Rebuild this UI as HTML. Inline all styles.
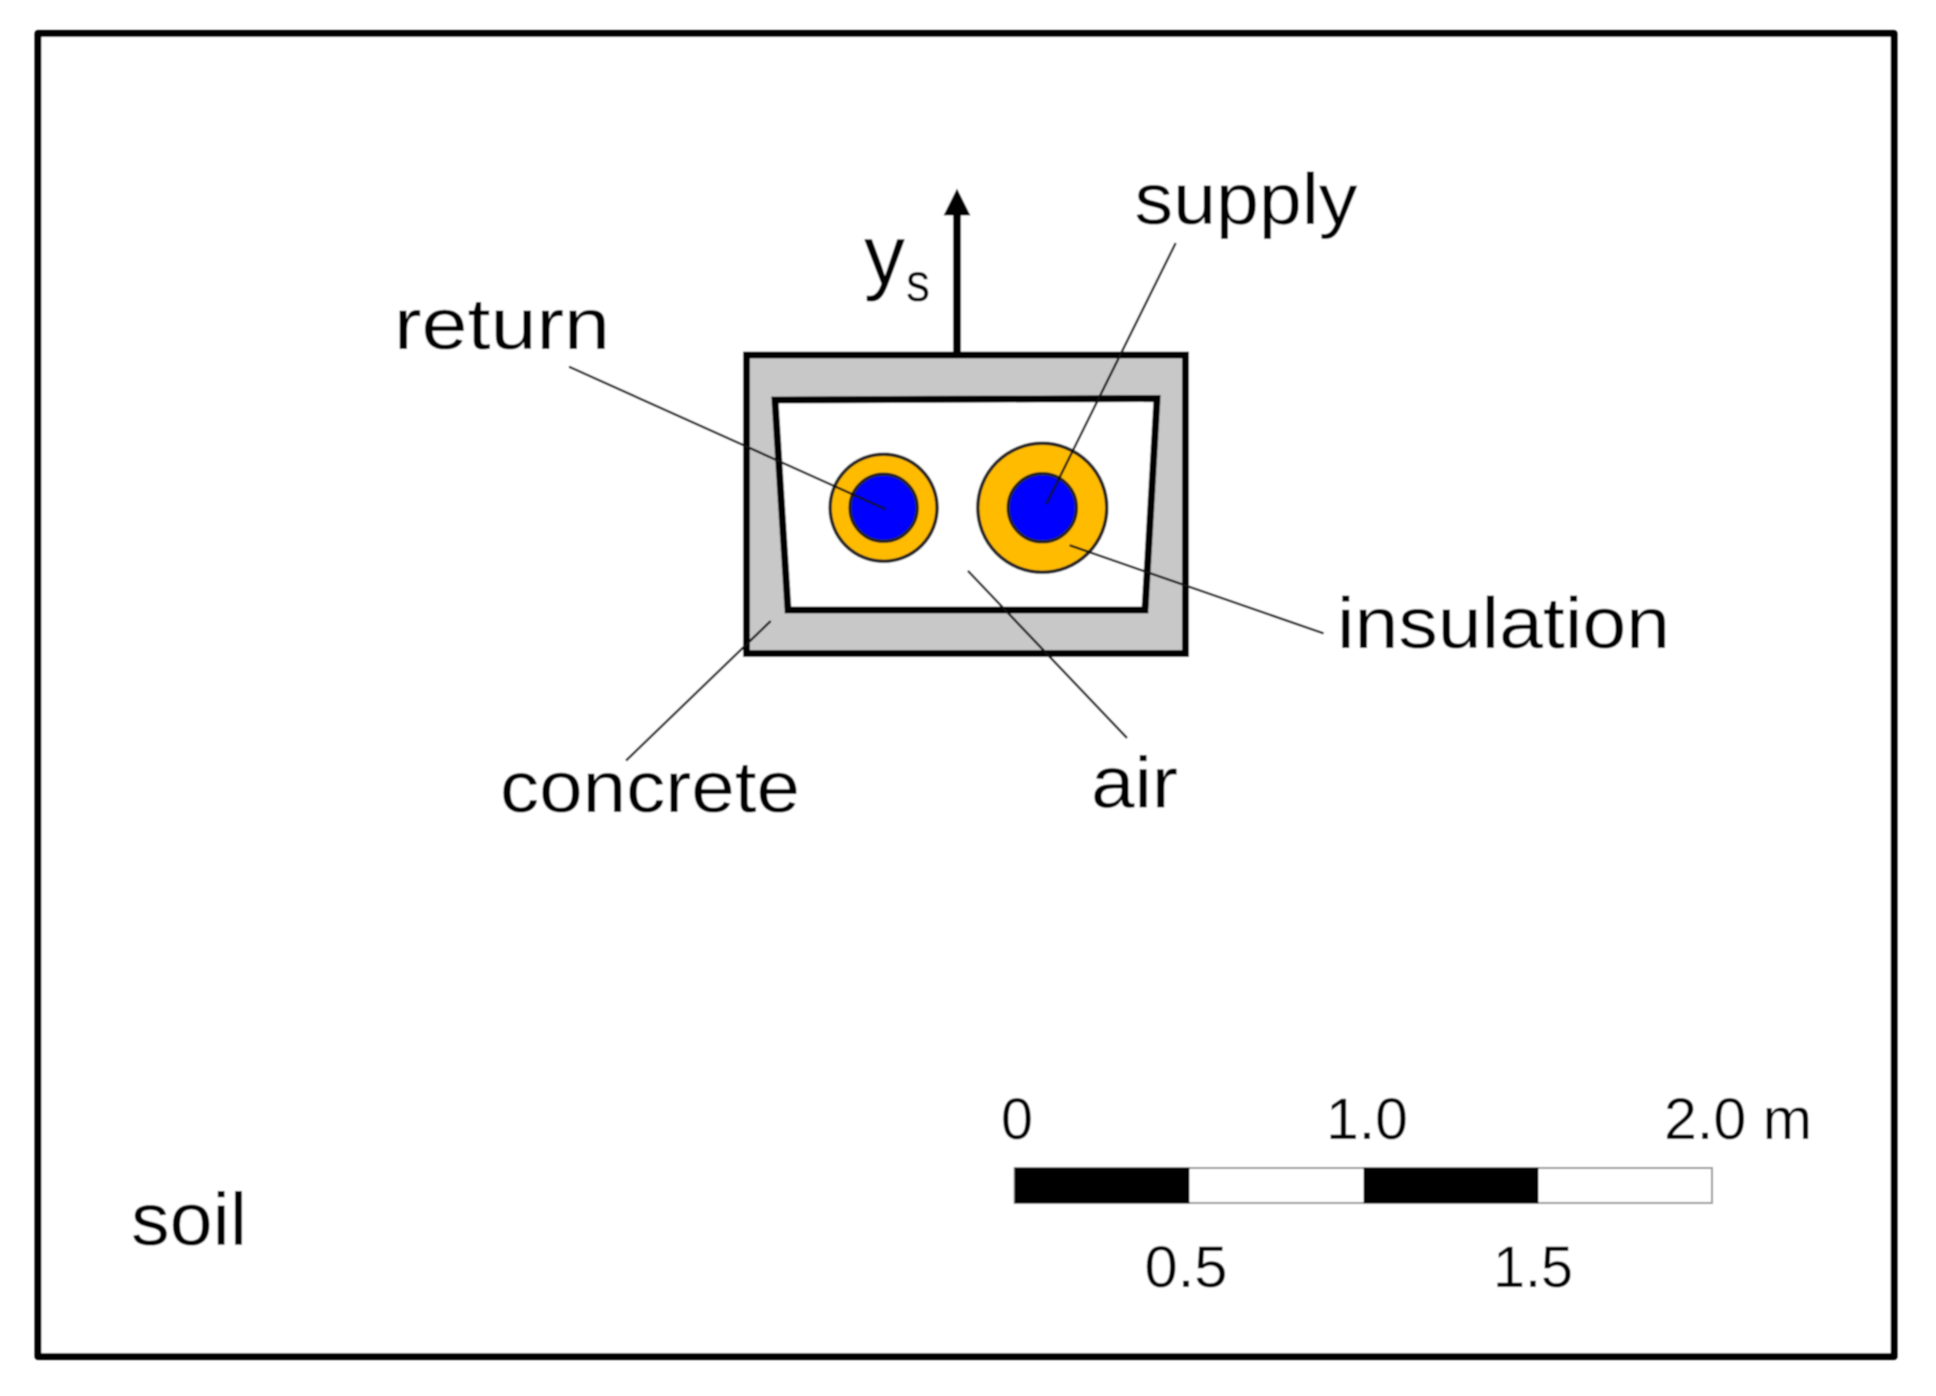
<!DOCTYPE html>
<html lang="en">
<head>
<meta charset="utf-8">
<title>Diagram</title>
<style>
html,body{margin:0;padding:0;background:#fff;width:1936px;height:1396px;overflow:hidden}
svg{display:block}
text{font-family:"Liberation Sans",sans-serif;fill:#000}
</style>
</head>
<body>
<svg width="1936" height="1396" viewBox="0 0 1936 1396" xmlns="http://www.w3.org/2000/svg">
<defs><filter id="b" x="-5%" y="-5%" width="110%" height="110%"><feGaussianBlur stdDeviation="0.7"/></filter></defs>
<rect width="1936" height="1396" fill="#fff"/>
<g filter="url(#b)">
<rect x="38" y="33.5" width="1856" height="1323" fill="#fff" stroke="#000" stroke-width="7" stroke-linejoin="round"/>

<rect x="746.5" y="355" width="439" height="298.5" fill="#c8c8c8" stroke="#000" stroke-width="7"/>
<polygon points="775,400 1157,398.5 1145,610 788,610" fill="#fff" stroke="#000" stroke-width="7"/>

<line x1="957" y1="352" x2="957" y2="212" stroke="#000" stroke-width="8"/>
<polygon points="957,188.5 970.5,215.5 943.5,215.5" fill="#000"/>

<circle cx="883.6" cy="507.8" r="53.5" fill="#ffbb00" stroke="#222" stroke-width="3.5"/>
<circle cx="883.6" cy="507.8" r="33.5" fill="#0000ff" stroke="#222" stroke-width="3.5"/>
<circle cx="1042.3" cy="507.8" r="64.5" fill="#ffbb00" stroke="#222" stroke-width="3.5"/>
<circle cx="1042.3" cy="507.8" r="34" fill="#0000ff" stroke="#222" stroke-width="3.5"/>

<g stroke="#111" stroke-width="2.4" fill="none">
<line x1="1175.7" y1="243" x2="1046.4" y2="504"/>
<line x1="569" y1="366.7" x2="885.7" y2="509.2"/>
<line x1="1069.6" y1="545.3" x2="1323.6" y2="633.4"/>
<line x1="967.9" y1="570.8" x2="1127" y2="738"/>
<line x1="770.7" y1="621" x2="626" y2="760.6"/>
</g>

<text x="1134.5" y="224" font-size="72" textLength="223" lengthAdjust="spacingAndGlyphs">supply</text>
<text x="394" y="349" font-size="72" textLength="216" lengthAdjust="spacingAndGlyphs">return</text>
<text x="1337" y="648" font-size="72" textLength="333" lengthAdjust="spacingAndGlyphs">insulation</text>
<text x="500" y="812" font-size="72" textLength="300" lengthAdjust="spacingAndGlyphs">concrete</text>
<text x="1091" y="807.5" font-size="72" textLength="87" lengthAdjust="spacingAndGlyphs">air</text>
<text x="131" y="1245" font-size="74" textLength="116" lengthAdjust="spacingAndGlyphs">soil</text>
<text x="864" y="284" font-size="84" textLength="41" lengthAdjust="spacingAndGlyphs">y</text>
<text x="906" y="301" font-size="54" textLength="24" lengthAdjust="spacingAndGlyphs">s</text>

<rect x="1014.5" y="1168" width="697.5" height="35" fill="#fff" stroke="#999" stroke-width="2"/>
<rect x="1014.5" y="1167.5" width="175" height="36" fill="#000"/>
<rect x="1363.5" y="1167.5" width="175" height="36" fill="#000"/>

<text x="1001" y="1139" font-size="58" textLength="32" lengthAdjust="spacingAndGlyphs">0</text>
<text x="1326" y="1139" font-size="58" textLength="82" lengthAdjust="spacingAndGlyphs">1.0</text>
<text x="1664" y="1139" font-size="58" textLength="148" lengthAdjust="spacingAndGlyphs">2.0 m</text>
<text x="1144.5" y="1287" font-size="58" textLength="83" lengthAdjust="spacingAndGlyphs">0.5</text>
<text x="1493" y="1287" font-size="58" textLength="80" lengthAdjust="spacingAndGlyphs">1.5</text>
</g>
</svg>
</body>
</html>
